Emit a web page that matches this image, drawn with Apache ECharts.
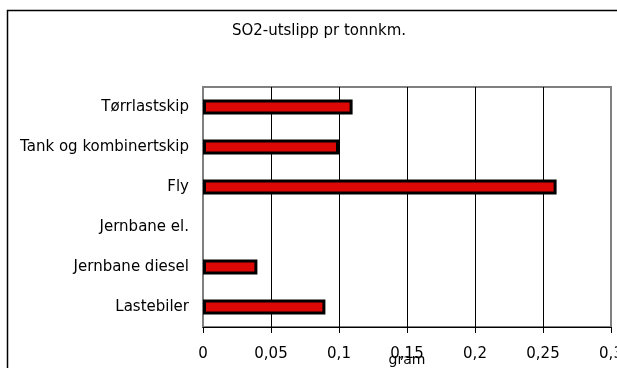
<!DOCTYPE html>
<html><head><meta charset="utf-8">
<script src="https://cdn.jsdelivr.net/npm/echarts@6/dist/echarts.min.js"></script>
<style>html,body{margin:0;padding:0;background:#fff}#c{width:617px;height:368px}</style>
</head><body><div id="c"></div>
<script>
var categories = ['Lastebiler', 'Jernbane diesel', 'Jernbane el.', 'Fly', 'Tank og kombinertskip', 'Tørrlastskip'];
var values = [0.09, 0.04, 0, 0.26, 0.10, 0.11];
var titleText = 'SO2-utslipp pr tonnkm.';
var axisName = 'gram';

var chart = echarts.init(document.getElementById('c'), null, {renderer: 'canvas'});
var font = '"DejaVu Sans", sans-serif';
var fs = 15;
var barData = values.map(function (v) {
  return v === 0 ? {value: v, itemStyle: {borderWidth: 0, opacity: 0}} : v;
});
chart.setOption({
  backgroundColor: '#fff',
  animation: false,
  title: {text: titleText, left: 314, top: 19, textAlign: 'center',
    textStyle: {fontFamily: font, fontSize: 15, fontWeight: 'normal', color: '#000'}},
  graphic: [{type: 'rect', shape: {x: 7.5, y: 10.5, width: 700, height: 500}, z: -1,
    style: {fill: 'none', stroke: '#000', lineWidth: 1.5}}],
  grid: {left: 203, top: 87, width: 408, height: 240, show: true, borderColor: '#808080', borderWidth: 2,
    backgroundColor: 'transparent', containLabel: false, outerBoundsMode: 'none'},
  xAxis: {type: 'value', min: 0, max: 0.3, interval: 0.05,
    name: axisName, nameLocation: 'middle', nameGap: 26, nameMoveOverlap: false,
    nameTextStyle: {fontFamily: font, fontSize: 14, color: '#000'},
    axisLine: {show: true, lineStyle: {color: '#000', width: 1}},
    axisTick: {show: true, length: 6, lineStyle: {color: '#000'}},
    axisLabel: {margin: 20, fontFamily: font, fontSize: fs, color: '#000',
      formatter: function (v) { return String(+v.toFixed(2)).replace('.', ','); }},
    splitLine: {show: true, showMaxLine: false, lineStyle: {color: '#000', width: 1}}},
  yAxis: {type: 'category', data: categories,
    axisLine: {show: true, lineStyle: {color: '#808080', width: 2}},
    axisTick: {show: false},
    axisLabel: {margin: 14, fontFamily: font, fontSize: fs, color: '#000'},
    splitLine: {show: false}},
  series: [{type: 'bar', data: barData, barWidth: 15,
    itemStyle: {color: '#dd0806', borderColor: '#000', borderWidth: 3}}]
});
</script></body></html>
